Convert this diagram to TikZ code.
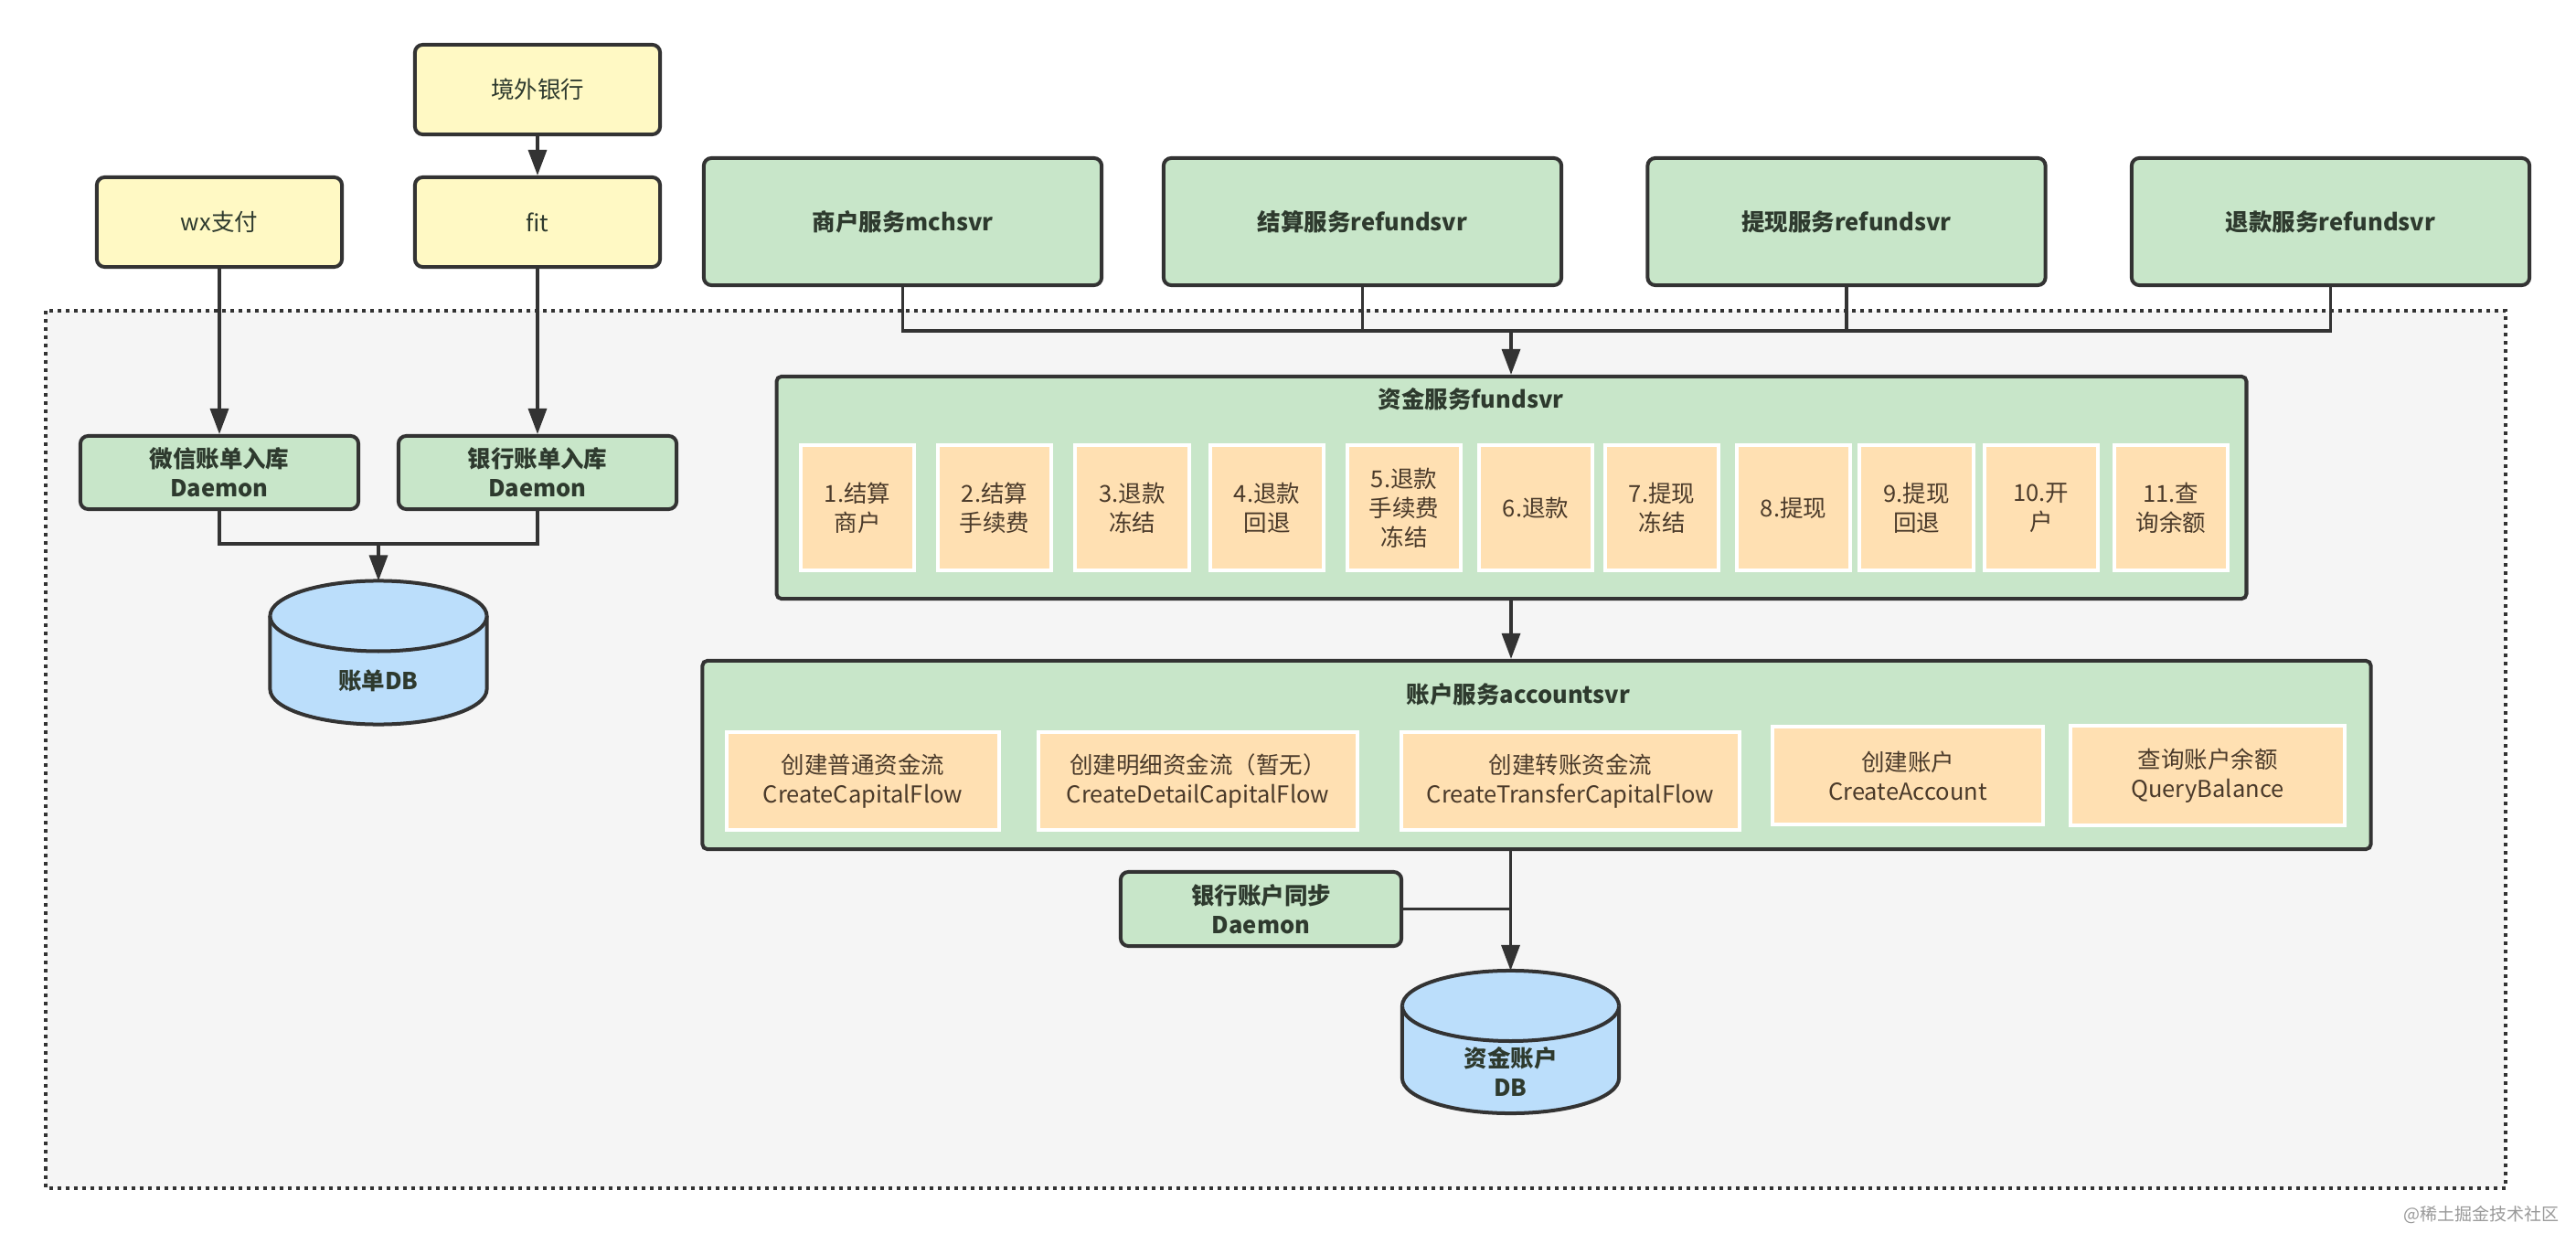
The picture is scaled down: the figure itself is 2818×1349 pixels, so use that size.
\documentclass[tikz,border=0pt]{standalone}
\usepackage{fontspec}
\setmainfont{Noto Sans CJK SC}
\usetikzlibrary{arrows.meta}

\definecolor{linec}{HTML}{333333}
\definecolor{txt}{HTML}{2E3A2E}
\definecolor{itxt}{HTML}{4A3A2A}
\definecolor{yel}{HTML}{FFF9C4}
\definecolor{grn}{HTML}{C8E6C9}
\definecolor{org}{HTML}{FFE0B2}
\definecolor{blu}{HTML}{BBDEFB}
\definecolor{zone}{HTML}{F5F5F5}
\newcommand{\diagfont}{\fontsize{7.25pt}{9.1pt}\selectfont}
% cilindro del DB attorno al nodo #1
\newcommand{\dbcyl}[1]{%
  \filldraw[dbline] ([yshift=-0.385cm]#1.north west) -- ([yshift=0.385cm]#1.south west)
    arc[start angle=180, end angle=360, x radius=1.185cm, y radius=0.385cm]
    -- ([yshift=-0.385cm]#1.north east)
    arc[start angle=0, end angle=180, x radius=1.185cm, y radius=0.385cm] -- cycle;
  \draw[dbline] ([yshift=-0.385cm]#1.north west)
    arc[start angle=180, end angle=360, x radius=1.185cm, y radius=0.385cm];}

\tikzset{
  base/.style={draw=linec, line width=0.04cm, rounded corners=2.4pt, align=center, font=\diagfont, text=txt, inner sep=0pt},
  srcbox/.style={base, fill=yel, minimum width=2.68cm, minimum height=0.98cm},
  svcbox/.style={base, fill=grn, font=\diagfont\bfseries, minimum width=4.35cm, minimum height=1.39cm},
  daemonbox/.style={base, fill=grn, font=\diagfont\bfseries, minimum width=3.04cm, minimum height=0.80cm},
  groupbox/.style={base, fill=grn, rounded corners=1.5pt},
  grouptitle/.style={font=\diagfont\bfseries, text=txt, inner sep=0pt, align=center},
  itembox/.style={draw=white, line width=0.04cm, fill=org, text=itxt, font=\diagfont, align=center, inner sep=0pt},
  dbnode/.style={inner sep=0pt, outer sep=0pt, minimum width=2.37cm, minimum height=1.57cm},
  dbline/.style={draw=linec, fill=blu, line width=0.04cm},
  wire/.style={draw=linec, line width=0.033cm},
  arr/.style={wire, -{Triangle[length=0.28cm,width=0.2cm]}},
  zonebox/.style={draw=linec, fill=zone, line width=0.04cm, dash pattern=on 0.04cm off 0.05cm}
}

\begin{document}
\begin{tikzpicture}[x=0.01cm, y=-0.01cm]
  \fill[white] (0,0) rectangle (2818,1349);
  \useasboundingbox (0,0) rectangle (2818,1349);

  % zona interna
  \draw[zonebox] (50,340) rectangle (2741,1300);

  % sorgenti esterne
  \node[srcbox] (bank) at (588,98) {境外银行};
  \node[srcbox] (wx) at (240,243) {wx支付};
  \node[srcbox] (fit) at (588,243) {fit};

  \node[daemonbox] (wxd) at (240,517) {微信账单入库\\Daemon};
  \node[daemonbox] (bankd) at (588,517) {银行账单入库\\Daemon};
  \node[dbnode] (billdb) at (414,714) {};
  \dbcyl{billdb}
  \node[grouptitle] (billdbtxt) at (414,745) {账单DB};

  % servizi in alto
  \node[svcbox] (mch) at (987.5,242.5) {商户服务mchsvr};
  \node[svcbox] (settle) at (1490.5,242.5) {结算服务refundsvr};
  \node[svcbox] (draw) at (2020,242.5) {提现服务refundsvr};
  \node[svcbox] (refund) at (2549.5,242.5) {退款服务refundsvr};
  \coordinate (bus) at (1653,362);

  % fundsvr
  \node[groupbox, minimum width=16.07cm, minimum height=2.43cm] (fund) at (1653.5,533.5) {};
  \node[grouptitle] (fundtitle) at (1609,437) {资金服务fundsvr};
  \foreach \cx/\txt [count=\i] in {938/{1.结算\\商户}, 1088/{2.结算\\手续费}, 1238.5/{3.退款\\冻结},
      1386/{4.退款\\回退}, 1536/{5.退款\\手续费\\冻结}, 1680/{6.退款}, 1818/{7.提现\\冻结},
      1962/{8.提现}, 2096.5/{9.提现\\回退}, 2233/{10.开\\户}, 2375/{11.查\\询余额}}
    \node[itembox, minimum width=1.24cm, minimum height=1.37cm] (f\i) at (\cx,555.5) {\txt};

  % accountsvr
  \node[groupbox, minimum width=18.24cm, minimum height=2.06cm] (acct) at (1681,826) {};
  \node[grouptitle] (accttitle) at (1661,760) {账户服务accountsvr};
  \node[itembox, minimum width=2.98cm, minimum height=1.07cm] (a1) at (944,854.5) {创建普通资金流\\CreateCapitalFlow};
  \node[itembox, minimum width=3.49cm, minimum height=1.07cm] (a2) at (1310.5,854.5) {创建明细资金流（暂无）\\CreateDetailCapitalFlow};
  \node[itembox, minimum width=3.70cm, minimum height=1.07cm] (a3) at (1718,854.5) {创建转账资金流\\CreateTransferCapitalFlow};
  \node[itembox, minimum width=2.96cm, minimum height=1.07cm] (a4) at (2087,848.5) {创建账户\\CreateAccount};
  \node[itembox, minimum width=3.00cm, minimum height=1.09cm] (a5) at (2415,848.5) {查询账户余额\\QueryBalance};

  \node[daemonbox, minimum width=3.07cm, minimum height=0.81cm] (sync) at (1379.5,994.5) {银行账户同步\\Daemon};
  \node[dbnode, minimum height=1.56cm] (capdb) at (1652.5,1140) {};
  \dbcyl{capdb}
  \node[grouptitle] (capdbtxt) at (1652.5,1172) {资金账户\\DB};

  % collegamenti
  \draw[arr] (bank) -- (fit);
  \draw[arr] (wx) -- (wxd);
  \draw[arr] (fit) -- (bankd);
  \coordinate (billj) at (414,595);
  \draw[wire] (wxd.south) |- (billj) -| (bankd.south);
  \draw[arr] (billj) -- (billdb.north);

  \draw[wire] (mch.south) |- (bus) -| (refund.south);
  \draw[wire] (settle.south) |- (bus);
  \draw[wire] (draw.south) |- (bus);
  \draw[arr] (bus) -- (bus |- fund.north);
  \draw[arr] (bus |- fund.south) -- (bus |- acct.north);
  \draw[arr] (capdb.north |- acct.south) -- (capdb.north);
  \draw[wire] (sync.east) -- (sync.east -| capdb.north);

  \node[text=black!40, font=\fontsize{5.4pt}{6pt}\selectfont, anchor=east] (mark) at (2812,1329) {@稀土掘金技术社区};
\end{tikzpicture}
\end{document}
